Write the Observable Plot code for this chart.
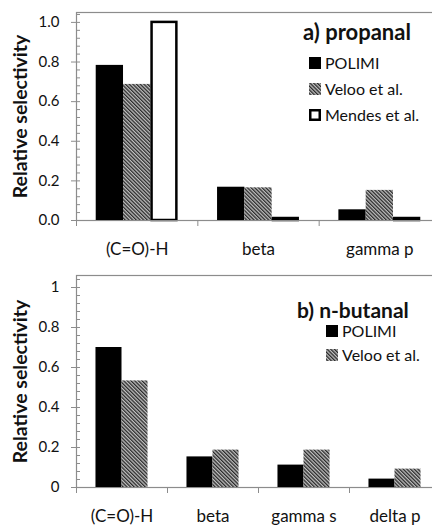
<!DOCTYPE html>
<html>
<head>
<meta charset="utf-8">
<script src="https://cdn.jsdelivr.net/npm/d3@7"></script>
<script src="https://cdn.jsdelivr.net/npm/@observablehq/plot@0.6"></script>
<style>
  html, body { margin: 0; padding: 0; background: #fff; overflow: hidden; width: 432px; height: 525px; }
  body { font-family: Lato, "Liberation Sans", sans-serif; color: #111; position: relative; }
  svg.plot { max-width: none !important; display: block; }
  .panel { position: relative; width: 444px; }
  .title { position: absolute; font-weight: bold; font-size: 21px; white-space: nowrap; line-height: 1; }
  .item { position: absolute; font-size: 16px; white-space: nowrap; line-height: 1; display: flex; align-items: center; }
  .item svg { margin-right: 4px; }
</style>
</head>
<body>
<svg width="0" height="0" style="position:absolute">
  <defs>
    <pattern id="hatch" patternUnits="userSpaceOnUse" width="2.6" height="2.6" patternTransform="rotate(-45)">
      <rect width="2.6" height="2.6" fill="#c0c0c0"></rect>
      <rect width="1.3" height="2.6" fill="#2a2a2a"></rect>
    </pattern>
  </defs>
</svg>
<div id="a" class="panel"></div>
<div id="b" class="panel"></div>
<script>
// ---- data: panel a) propanal
const categoriesA = ["(C=O)-H", "beta", "gamma p"];
const seriesA = ["POLIMI", "Veloo et al.", "Mendes et al."];
const polimiA = [0.783, 0.168, 0.054];
const velooA = [0.687, 0.165, 0.152];
const mendesA = [1.0, 0.01, 0.01];
const yTicksA = [0, 0.2, 0.4, 0.6, 0.8, 1.0];
const yLabelsA = ["0.0", "0.2", "0.4", "0.6", "0.8", "1.0"];

// ---- data: panel b) n-butanal
const categoriesB = ["(C=O)-H", "beta", "gamma s", "delta p"];
const seriesB = ["POLIMI", "Veloo et al."];
const polimiB = [0.70, 0.153, 0.112, 0.042];
const velooB = [0.533, 0.187, 0.187, 0.092];
const yTicksB = [0, 0.2, 0.4, 0.6, 0.8, 1];
const yLabelsB = ["0", "0.2", "0.4", "0.6", "0.8", "1"];

const styles = {
  "POLIMI": {fill: "black", stroke: "black", strokeWidth: 0},
  "Veloo et al.": {fill: "url(#hatch)", stroke: "none", strokeWidth: 0},
  "Mendes et al.": {fill: "white", stroke: "black", strokeWidth: 2.5}
};

function rows(cats, series, valueLists, barFrac) {
  const off = (1 - series.length * barFrac) / 2;
  const out = [];
  series.forEach((s, si) => {
    valueLists[si].forEach((v, ci) => {
      const x1 = ci + off + si * barFrac;
      out.push({series: s, cat: cats[ci], x1, x2: x1 + barFrac, value: v});
    });
  });
  return out;
}

function chart({cats, series, values, barFrac, yMax, yTicks, yLabels, height, marginTop, marginBottom}) {
  const data = rows(cats, series, values, barFrac);
  const n = cats.length;
  const minor = d3.range(0, Math.round(yMax / 0.04) + 1).map(i => +(i * 0.04).toFixed(2)).filter(v => v <= yMax && !yTicks.some(t => Math.abs(t - v) < 1e-6));
  const grey = "#8c8c8c";
  return Plot.plot({
    width: 444, height, marginLeft: 76, marginRight: 4, marginTop, marginBottom,
    style: {fontFamily: "Lato, 'Liberation Sans', sans-serif", color: "#111", background: "white", overflow: "visible"},
    x: {type: "linear", domain: [0, n], axis: null},
    y: {domain: [0, yMax], axis: null},
    marks: [
      Plot.frame({stroke: grey, strokeWidth: 1.2}),
      ...series.map(s => Plot.rectY(data.filter(d => d.series === s), {
        x1: "x1", x2: "x2", y1: 0, y2: "value",
        fill: styles[s].fill, stroke: styles[s].stroke, strokeWidth: styles[s].strokeWidth,
        insetLeft: styles[s].strokeWidth / 2, insetRight: styles[s].strokeWidth / 2
      })),
      Plot.ruleY([0], {stroke: grey, strokeWidth: 1.2}),
      // y axis tick marks (major cross the axis, minor inside)
      Plot.axisY({ticks: yTicks, tickSize: 9, dx: 4, tickFormat: () => "", stroke: grey, label: null}),
      Plot.axisY({ticks: minor, tickSize: 4, dx: 4, tickFormat: () => "", stroke: grey, label: null}),
      Plot.axisY({ticks: yTicks, tickSize: 0, tickPadding: 17, tickFormat: v => yLabels[yTicks.indexOf(v)], fontSize: 15, fill: "#111", label: null}),
      // x axis: boundary ticks, then centered category labels
      Plot.axisX({ticks: d3.range(0, n + 1), tickSize: 6, tickFormat: () => "", stroke: grey, label: null}),
      Plot.axisX({ticks: d3.range(0, n).map(i => i + 0.5), tickSize: 0, tickPadding: 22, tickFormat: v => cats[Math.floor(v)], fontSize: 17, fill: "#111", label: null}),
      Plot.text(["Relative selectivity"], {frameAnchor: "left", textAnchor: "middle", lineAnchor: "middle", rotate: -90, dx: -56, fontWeight: "bold", fontSize: 19.5, fill: "#111"})
    ]
  });
}

function swatch(s) {
  const st = styles[s];
  const sw = st.strokeWidth;
  return `<svg width="12" height="12"><rect x="${sw/2}" y="${sw/2}" width="${12 - sw}" height="${12 - sw}" fill="${st.fill}" stroke="${st.stroke}" stroke-width="${sw}"></rect></svg>`;
}

function legend(el, title, series, pos) {
  const t = document.createElement("div");
  t.className = "title";
  t.textContent = title;
  t.style.left = pos.titleX + "px";
  t.style.top = pos.titleY + "px";
  t.style.fontSize = pos.titleSize + "px";
  el.appendChild(t);
  series.forEach((s, i) => {
    const d = document.createElement("div");
    d.className = "item";
    d.innerHTML = swatch(s) + `<span>${s}</span>`;
    d.style.left = pos.itemX + "px";
    d.style.top = (pos.itemY + i * pos.step) + "px";
    el.appendChild(d);
  });
}

const elA = document.getElementById("a");
elA.appendChild(chart({cats: categoriesA, series: seriesA, values: [polimiA, velooA, mendesA], barFrac: 0.225,
  yMax: 1.05, yTicks: yTicksA, yLabels: yLabelsA, height: 258, marginTop: 12, marginBottom: 38}));
legend(elA, "a) propanal", seriesA, {titleX: 303, titleY: 21, titleSize: 22, itemX: 309, itemY: 55, step: 26});

const elB = document.getElementById("b");
elB.appendChild(chart({cats: categoriesB, series: seriesB, values: [polimiB, velooB], barFrac: 0.286,
  yMax: 1.06, yTicks: yTicksB, yLabels: yLabelsB, height: 267, marginTop: 17, marginBottom: 38}));
legend(elB, "b) n-butanal", seriesB, {titleX: 297, titleY: 41, titleSize: 21, itemX: 326, itemY: 65, step: 24});
</script>
</body>
</html>
